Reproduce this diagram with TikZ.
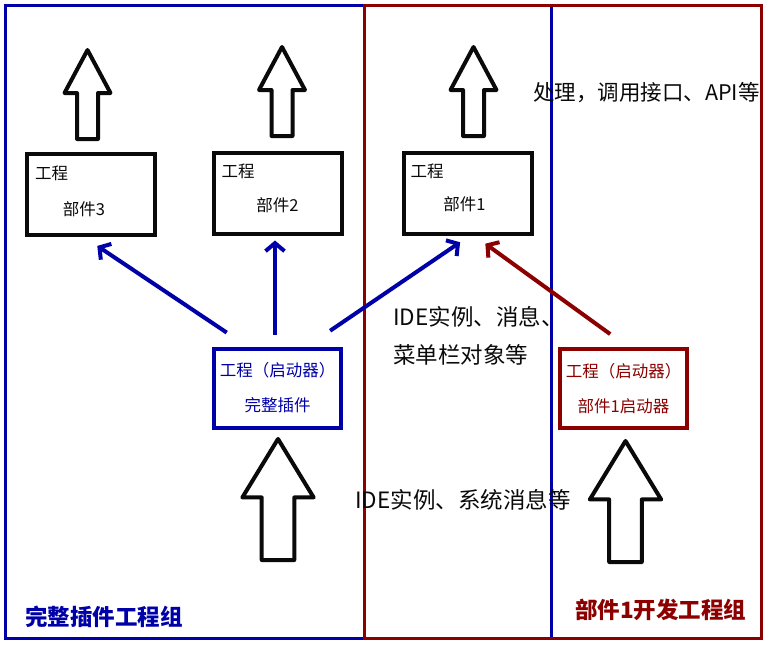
\documentclass[tikz,border=0pt]{standalone}
\usepackage{fontspec}
\setmainfont{Noto Sans CJK SC}
\usepackage{xcolor}
\usepackage{tikz}
\usetikzlibrary{positioning,arrows.meta,calc}
\definecolor{ink}{RGB}{10,10,10}
\definecolor{grpblue}{RGB}{0,0,168}
\definecolor{grpred}{RGB}{140,0,0}
\tikzset{
  part/.style={draw=ink, line width=4pt, minimum width=128pt, minimum height=81pt,
    inner sep=0pt},
  starter/.style={draw=#1, text=#1, line width=4pt, minimum width=127pt,
    minimum height=79pt, inner sep=0pt, align=center,
    font=\fontsize{16.5}{20}\selectfont},
  boxtext/.style={font=\fontsize{16.5}{18}\selectfont, inner sep=0pt, text=ink},
  note/.style={font=\fontsize{22.5}{38}\selectfont, inner sep=0pt, align=left, text=ink},
  grouplabel/.style={font=\bfseries\fontsize{22.5}{26}\selectfont, inner sep=0pt, text=#1},
  link/.style={-{Straight Barb[length=8pt,width=19pt]}, line width=4pt, draw=#1},
  hollow/.style={draw=ink, fill=white, line width=4pt, line join=round},
  frame/.style={draw=#1, line width=3pt},
  hollowup/.pic={
    \path[hollow] (-10.5,0) -- (-10.5,-46) -- (-23,-46) -- (0,-89) -- (23,-46)
      -- (10.5,-46) -- (10.5,0) -- cycle;
  },
}

\begin{document}
\begin{tikzpicture}[x=1pt, y=-1pt]
  \useasboundingbox[fill=white] (0,0) rectangle (768,646);
  \draw[frame=grpblue] (5,5) rectangle (551,638);
  \draw[frame=grpred] (364,5) rectangle (761,638);

  \node[part] (b3) at (91,194.5) {};
  \node[part] (b2) at (277.5,193) {};
  \node[part] (b1) at (467.5,193) {};
  \node[boxtext, anchor=west] (t3) at ([shift={(10,21)}]b3.north west) {工程};
  \node[boxtext, anchor=west] (t2) at ([shift={(10,21)}]b2.north west) {工程};
  \node[boxtext, anchor=west] (t1) at ([shift={(9,21)}]b1.north west) {工程};
  \node[boxtext] (p3) at ([shift={(-7,15)}]b3.center) {部件3};
  \node[boxtext] (p2) at ([shift={(0,12)}]b2.center) {部件2};
  \node[boxtext] (p1) at ([shift={(-3,11)}]b1.center) {部件1};

  \pic at (87.5,139) {hollowup};
  \pic at (282,136) {hollowup};
  \pic at (473.5,136) {hollowup};
  \pic[xscale=1.55, yscale=1.36] at (278,560) {hollowup};
  \pic[xscale=1.55, yscale=1.36] at (625.5,562) {hollowup};

  \node[starter=grpblue] (full) at (277.5,388) {工程（启动器）\\[15pt]完整插件};
  \node[starter=grpred] (st1) at (623.5,388.5) {工程（启动器）\\[15pt]部件1启动器};

  \draw[link=grpblue, shorten <=25pt, shorten >=16pt]
    ([xshift=-30pt]full.north) -- ([xshift=-7pt]b3.south);
  \draw[link=grpblue, shorten <=12pt, shorten >=5pt]
    ([xshift=-2.5pt]full.north) -- ([xshift=-2.5pt]b2.south);
  \draw[link=grpblue, shorten <=28pt, shorten >=12pt]
    ([xshift=29.5pt]full.north) -- ([xshift=2.5pt]b1.south);
  \draw[link=grpred, shorten <=22pt, shorten >=14pt]
    ([xshift=4.5pt]st1.north) -- ([xshift=6.5pt]b1.south);

  \node[note, anchor=west, font=\fontsize{21.5}{26}\selectfont] (api) at (533,93)
    {处理，调用接口、API等};
  \node[note, anchor=west] (msg) at (393,336) {IDE实例、消息、\\菜单栏对象等};
  \node[note, anchor=west] (sys) at (355,500) {IDE实例、系统消息等};

  \node[grouplabel=grpblue, anchor=west] (g1) at (25,617) {完整插件工程组};
  \node[grouplabel=grpred, anchor=west] (g2) at (575,610) {部件1开发工程组};
\end{tikzpicture}
\end{document}
